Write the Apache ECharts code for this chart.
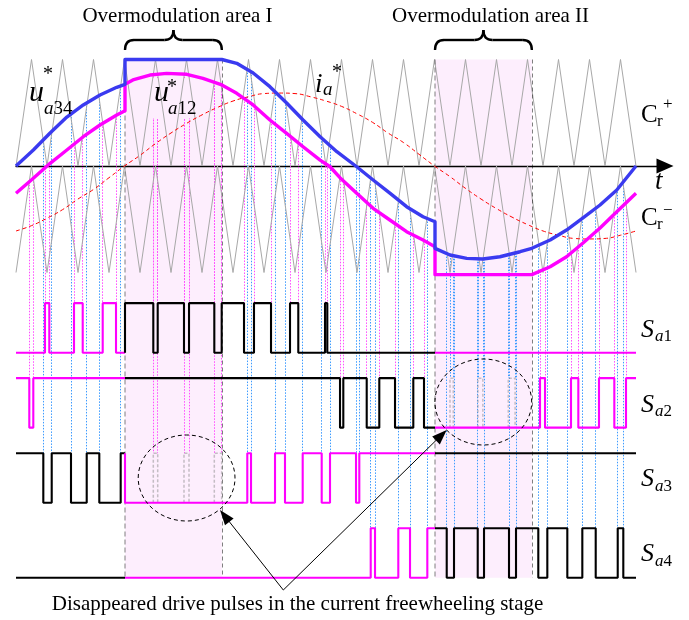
<!DOCTYPE html>
<html>
<head>
<meta charset="utf-8">
<script src="https://cdn.jsdelivr.net/npm/echarts/dist/echarts.min.js"></script>
<style>
  html, body { margin: 0; padding: 0; background: #ffffff; }
  #chart { width: 689px; height: 620px; }
</style>
</head>
<body>
<div id="chart"></div>
<script>
// ---- Time base: t is measured in carrier periods ----

// Carrier vertices, one every half period
const carrierT = [0,0.5,1,1.5,2,2.5,3,3.5,4,4.5,5,5.5,6,6.5,7,7.5,8,8.5,9,9.5,10,10.5,11,11.5,12,12.5,13,13.5,14,14.5,15,15.5,16,16.5,17,17.5,18,18.5,19,19.5,20];
const crPlus  = [0,1,0,1,0,1,0,1,0,1,0,1,0,1,0,1,0,1,0,1,0,1,0,1,0,1,0,1,0,1,0,1,0,1,0,1,0,1,0,1,0];
const crMinus = [-1,0,-1,0,-1,0,-1,0,-1,0,-1,0,-1,0,-1,0,-1,0,-1,0,-1,0,-1,0,-1,0,-1,0,-1,0,-1,0,-1,0,-1,0,-1,0,-1,0,-1];

// Current reference i_a*
const iaT = carrierT;
const iaV = [-0.61,-0.56,-0.49,-0.41,-0.31,-0.22,-0.11,0.00,0.10,0.21,0.31,0.40,0.48,0.55,0.61,0.65,0.68,0.685,0.68,0.65,0.61,0.56,0.49,0.41,0.31,0.22,0.11,0.00,-0.10,-0.21,-0.31,-0.40,-0.48,-0.55,-0.61,-0.65,-0.68,-0.685,-0.68,-0.65,-0.61];

// Modulation reference u_a34*
const ua34T = [0,0.56,1.10,1.64,2.17,2.71,3.25,3.516,3.516,6.64,7.12,7.65,8.19,8.73,9.26,9.81,10.35,10.99,11.52,12.06,12.60,13.13,13.516,13.516,14.0,14.54,15.06,15.61,16.26,16.64,17.23,17.76,18.29,18.84,19.38,20.0];
const ua34V = [0,0.15,0.31,0.46,0.573,0.667,0.739,0.767,1.0,1.0,0.964,0.873,0.745,0.592,0.432,0.275,0.134,-0.007,-0.131,-0.254,-0.382,-0.476,-0.523,-0.773,-0.836,-0.867,-0.873,-0.852,-0.805,-0.773,-0.695,-0.601,-0.488,-0.366,-0.225,0];

// Modulation reference u_a12*
const ua12T = [0,0.56,1.10,1.64,2.17,2.71,3.25,3.516,3.516,3.77,4.32,4.86,5.51,6.03,6.64,7.12,7.65,8.19,8.73,9.26,9.81,10.13,10.45,10.99,11.52,12.06,12.60,13.13,13.516,13.516,16.64,17.23,17.76,18.29,18.84,19.38,20.0];
const ua12V = [-0.256,-0.115,0.025,0.150,0.275,0.385,0.479,0.519,0.767,0.808,0.854,0.870,0.861,0.823,0.761,0.683,0.573,0.432,0.307,0.181,0.056,-0.007,-0.11,-0.256,-0.397,-0.507,-0.617,-0.695,-0.758,-1.02,-1.02,-0.946,-0.852,-0.723,-0.582,-0.429,-0.256];

// Overmodulation areas [start, end]
const areaI  = [3.516, 6.64];
const areaII = [13.516, 16.64];

// Gate signals: initial state and switching instants
const sa1Init = 0;
const sa1Edges = [0.935,1.074,1.871,2.152,2.797,3.226,3.516,4.429,4.571,5.419,5.581,6.397,6.635,7.355,7.677,8.226,8.839,9.106,9.968,10.042];
const sa2Init = 1;
const sa2Edges = [0.429,0.558,10.452,10.558,11.313,11.719,12.226,12.816,13.161,16.903,17.065,17.903,18.139,18.806,19.3,19.677];
const sa3Init = 1;
const sa3Edges = [0.881,1.152,1.774,2.281,2.687,3.377,3.516,7.461,7.581,8.355,8.677,9.248,9.861,10.129,10.968,11.074];
const sa4Init = 0;
const sa4Edges = [11.442,11.581,12.332,12.710,13.268,13.894,14.129,14.894,15.097,15.903,16.129,16.848,17.139,17.784,18.268,18.7,19.41,19.59];

// Pulses that vanish during current freewheeling
const sa3Missing = [[4.429,4.571],[5.419,5.581],[6.397,6.635]];
const sa2Missing = [[14.0,14.106],[14.9,15.06],[15.88,16.1]];

// Colour segments of each gate trace
const segBounds = [0, 3.516, 13.516, 20];

// ---- Styling / layout ----
const MAG = '#FF00FF', BLUE = '#3A3AF0', BLACK = '#000000';
const GUIDE_MAG = '#FF4DFF', GUIDE_BLUE = '#3D9BFF';
const PINK = '#FDEEFD';
const SERIF = '"Liberation Serif","Times New Roman",Times,serif';
const ROW_LOW = [-1.753, -2.457, -3.162, -3.866];
const ROW_H = 0.465;
const rowColours = [[MAG, BLACK, MAG], [MAG, BLACK, MAG], [BLACK, MAG, BLACK], [BLACK, MAG, BLACK]];

function pairs(T, V) { return T.map((t, i) => [t, V[i]]); }

function interp(T, V, t) {
  for (let i = 0; i < T.length - 1; i++) {
    if (t >= T[i] && t <= T[i + 1] && T[i + 1] > T[i]) {
      return V[i] + (V[i + 1] - V[i]) * (t - T[i]) / (T[i + 1] - T[i]);
    }
  }
  return V[V.length - 1];
}

// Step trace of one gate signal, split into its colour segments
function gateSeries(row, init, edges) {
  const lvl = s => ROW_LOW[row] + s * ROW_H;
  const out = [];
  for (let k = 0; k < 3; k++) {
    const a = segBounds[k], b = segBounds[k + 1];
    let s = init;
    edges.forEach(e => { if (e < a) s ^= 1; });
    const pts = [[a, lvl(s)]];
    edges.forEach(e => {
      if (e >= a && e < b) { pts.push([e, lvl(s)]); s ^= 1; pts.push([e, lvl(s)]); }
    });
    pts.push([b, lvl(s)]);
    out.push({
      type: 'line', data: pts, showSymbol: false, z: 9, silent: true,
      lineStyle: { color: rowColours[row][k], width: 2.1 }
    });
  }
  return out;
}

// Dotted projection lines from a reference down to a gate row
function guideLines(edges, T, V, row, colour) {
  const top = ROW_LOW[row] + ROW_H;
  return edges.filter(e => Math.abs(e - areaI[0]) > 0.01 && Math.abs(e - areaII[0]) > 0.01)
    .map(e => ({ coords: [[e, interp(T, V, e)], [e, top]], lineStyle: { color: colour } }));
}

function missingPulses(list, row) {
  const lo = ROW_LOW[row], hi = ROW_LOW[row] + ROW_H;
  return list.map(p => ({ coords: [[p[0], lo], [p[0], hi], [p[1], hi], [p[1], lo]] }));
}

const magGuides = []
  .concat(guideLines(sa1Edges, ua12T, ua12V, 0, GUIDE_MAG))
  .concat(guideLines(sa2Edges, ua12T, ua12V, 1, GUIDE_MAG))
  .concat(guideLines(sa3Missing.flat(), ua12T, ua12V, 2, GUIDE_MAG));
const blueGuides = []
  .concat(guideLines(sa3Edges, ua34T, ua34V, 2, GUIDE_BLUE))
  .concat(guideLines(sa4Edges, ua34T, ua34V, 3, GUIDE_BLUE))
  .concat(guideLines(sa2Missing.flat(), ua34T, ua34V, 1, GUIDE_BLUE));

const bottom = ROW_LOW[3];
const boundaryLines = [
  { coords: [[areaI[0], 1], [areaI[0], bottom]], lineStyle: { color: '#555', width: 1.5, type: [5, 3] } },
  { coords: [[areaI[1], 1], [areaI[1], bottom]], lineStyle: { color: '#000', width: 1, type: [4, 3] } },
  { coords: [[areaII[0], 1], [areaII[0], bottom]], lineStyle: { color: '#555', width: 1.5, type: [5, 3] } },
  { coords: [[areaII[1], 1], [areaII[1], bottom]], lineStyle: { color: '#000', width: 1, type: [4, 3] } }
];

const series = [
  {
    type: 'line', data: [[0, 0]], showSymbol: false, silent: true, z: 0,
    lineStyle: { opacity: 0 },
    markArea: {
      silent: true, itemStyle: { color: PINK },
      data: [
        [{ xAxis: areaI[0], yAxis: 1 }, { xAxis: areaI[1], yAxis: bottom }],
        [{ xAxis: areaII[0], yAxis: 1 }, { xAxis: areaII[1], yAxis: bottom }]
      ]
    }
  },
  {
    type: 'lines', coordinateSystem: 'cartesian2d', silent: true, z: 3,
    lineStyle: { width: 1, type: [1.5, 1.5], opacity: 1 }, data: blueGuides
  },
  {
    type: 'lines', coordinateSystem: 'cartesian2d', silent: true, z: 3,
    lineStyle: { width: 1, type: [1.5, 1.5], opacity: 1 }, data: magGuides
  },
  {
    type: 'line', data: pairs(carrierT, crPlus), showSymbol: false, silent: true, z: 5,
    lineStyle: { color: '#A8A8A8', width: 1 }
  },
  {
    type: 'line', data: pairs(carrierT, crMinus), showSymbol: false, silent: true, z: 5,
    lineStyle: { color: '#A8A8A8', width: 1 }
  },
  {
    type: 'lines', coordinateSystem: 'cartesian2d', silent: true, z: 6, data: boundaryLines
  },
  {
    type: 'line', data: pairs(iaT, iaV), showSymbol: false, silent: true, z: 7, smooth: true,
    lineStyle: { color: '#FF0000', width: 1, type: [4, 3] }
  },
  {
    type: 'line', data: pairs(ua12T, ua12V), showSymbol: false, silent: true, z: 8,
    lineStyle: { color: MAG, width: 3.4, join: 'round' }
  },
  {
    type: 'line', data: pairs(ua34T, ua34V), showSymbol: false, silent: true, z: 8,
    lineStyle: { color: BLUE, width: 3.4, join: 'round' }
  },
  {
    type: 'lines', coordinateSystem: 'cartesian2d', polyline: true, silent: true, z: 9,
    lineStyle: { color: '#8C8C8C', width: 1.5, type: [3, 2] },
    data: missingPulses(sa3Missing, 2).concat(missingPulses(sa2Missing, 1))
  }
]
  .concat(gateSeries(0, sa1Init, sa1Edges))
  .concat(gateSeries(1, sa2Init, sa2Edges))
  .concat(gateSeries(2, sa3Init, sa3Edges))
  .concat(gateSeries(3, sa4Init, sa4Edges));

const chart = echarts.init(document.getElementById('chart'), null, { renderer: 'canvas' });

chart.setOption({
  animation: false,
  backgroundColor: '#ffffff',
  grid: { left: 16, right: 24, top: 0, bottom: 0, containLabel: false, outerBoundsMode: 'none' },
  xAxis: {
    type: 'value', min: 0, max: 20.935, z: 2,
    axisLine: { show: true, onZero: true, symbol: ['none', 'triangle'], symbolSize: [15, 17],
      lineStyle: { color: '#000', width: 1.3 } },
    axisTick: { show: false }, axisLabel: { show: false }, splitLine: { show: false }
  },
  yAxis: { type: 'value', min: -4.2629, max: 1.5587, show: false },
  series: series
});

// ---- Annotations ----
function label(x, y, text, size, italic, align) {
  return { type: 'text', x: x, y: y, z: 20, silent: true,
    style: { text: text, fontFamily: SERIF, fontSize: size, fontStyle: italic ? 'italic' : 'normal',
      fill: '#000', align: align || 'left', verticalAlign: 'middle' } };
}
function subLabel(x, y, it, plain, size) {
  return { type: 'text', x: x, y: y, z: 20, silent: true,
    style: { text: '{i|' + it + '}' + (plain ? '{n|' + plain + '}' : ''), fill: '#000',
      align: 'left', verticalAlign: 'middle',
      rich: { i: { fontFamily: SERIF, fontSize: size, fontStyle: 'italic', fill: '#000' },
              n: { fontFamily: SERIF, fontSize: size, fill: '#000' } } } };
}
function brace(x0, x1, yEnd, yBar, yTip) {
  const xm = (x0 + x1) / 2, r = 9;
  const st = { stroke: '#000', lineWidth: 2.4, fill: null };
  const mk = (type, shape) => ({ type: type, z: 20, silent: true, shape: shape, style: st });
  return [
    mk('bezierCurve', { x1: x0, y1: yEnd, cpx1: x0, cpy1: yBar, x2: x0 + r, y2: yBar }),
    mk('line', { x1: x0 + r, y1: yBar, x2: xm - r, y2: yBar }),
    mk('bezierCurve', { x1: xm - r, y1: yBar, cpx1: xm, cpy1: yBar, x2: xm, y2: yTip }),
    mk('bezierCurve', { x1: xm, y1: yTip, cpx1: xm, cpy1: yBar, x2: xm + r, y2: yBar }),
    mk('line', { x1: xm + r, y1: yBar, x2: x1 - r, y2: yBar }),
    mk('bezierCurve', { x1: x1 - r, y1: yBar, cpx1: x1, cpy1: yBar, x2: x1, y2: yEnd })
  ];
}
const px = (t, v) => chart.convertToPixel({ gridIndex: 0 }, [t, v]);
const aI0 = px(areaI[0], 0)[0], aI1 = px(areaI[1], 0)[0];
const aII0 = px(areaII[0], 0)[0], aII1 = px(areaII[1], 0)[0];

const dashed = { stroke: '#000', lineWidth: 1, lineDash: [4, 3], fill: null };
const arrowSt = { stroke: '#000', lineWidth: 1 };

const graphic = [
  // pink backing behind the u_a12 label
  { type: 'rect', z: 4, silent: true, shape: { x: 151, y: 78, width: 44, height: 40 }, style: { fill: PINK } },

  label(177.5, 16, 'Overmodulation area I', 21, false, 'center'),
  label(490.5, 16, 'Overmodulation area II', 21, false, 'center'),
  label(297.5, 604, 'Disappeared drive pulses in the current freewheeling stage', 21, false, 'center'),

  label(29, 93, 'u', 30, true),
  label(48, 75, '*', 20, false, 'center'),
  subLabel(44, 109, 'a', '34', 19),

  label(154, 93, 'u', 30, true),
  label(172, 88, '*', 20, false, 'center'),
  subLabel(168, 109, 'a', '12', 19),

  label(315, 85, 'i', 27, true),
  subLabel(323, 90, 'a', '', 19),
  label(337, 73, '*', 20, false, 'center'),

  label(641, 115, 'C', 25, false),
  label(657, 122, 'r', 17, false),
  label(663, 105, '+', 17, false),
  label(641, 218, 'C', 25, false),
  label(657, 225, 'r', 17, false),
  label(663, 211, '\u2212', 17, false),

  label(655, 182, 't', 27, true),

  label(641, 330, 'S', 26, true), subLabel(655, 337, 'a', '1', 17),
  label(641, 405, 'S', 26, true), subLabel(655, 412, 'a', '2', 17),
  label(641, 479, 'S', 26, true), subLabel(655, 487, 'a', '3', 17),
  label(641, 554, 'S', 26, true), subLabel(655, 562, 'a', '4', 17),

  { type: 'ellipse', z: 20, silent: true, shape: { cx: 186.6, cy: 478, rx: 48.4, ry: 43 }, style: dashed },
  { type: 'ellipse', z: 20, silent: true, shape: { cx: 483.3, cy: 402, rx: 48.4, ry: 43 }, style: dashed },

  { type: 'line', z: 20, silent: true, shape: { x1: 283.3, y1: 590, x2: 226, y2: 517.5 }, style: arrowSt },
  { type: 'line', z: 20, silent: true, shape: { x1: 283.3, y1: 590, x2: 440, y2: 436.5 }, style: arrowSt },
  { type: 'polygon', z: 20, silent: true, shape: { points: [[220, 510], [233.6, 518.4], [225, 525.2]] }, style: { fill: '#000' } },
  { type: 'polygon', z: 20, silent: true, shape: { points: [[446.7, 430], [439.8, 444.4], [432.2, 436.6]] }, style: { fill: '#000' } }
]
  .concat(brace(aI0, aI1, 50, 40, 30))
  .concat(brace(aII0, aII1, 50, 40, 30));

chart.setOption({ graphic: graphic });
</script>
</body>
</html>
